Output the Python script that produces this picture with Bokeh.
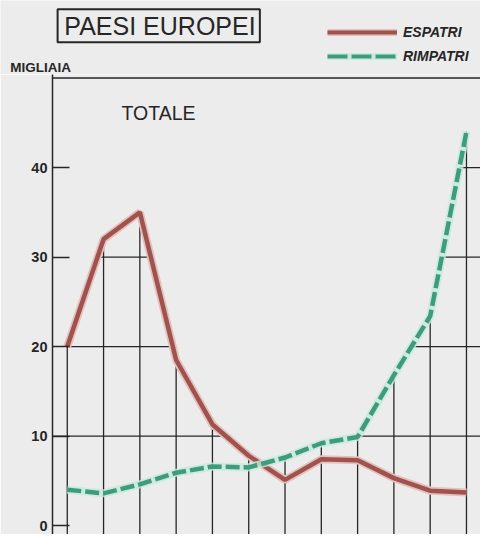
import numpy as np
from bokeh.plotting import figure
from bokeh.layouts import column
from bokeh.models import Range1d, FixedTicker, Label, Legend, LegendItem
from bokeh.core.properties import value
from bokeh.embed import file_html
from bokeh.resources import INLINE

# ---- data (thousands) ----
punti = list(range(12))  # 12 successive periods (axis labels cropped in the source)
espatri = [20.0, 32.0, 35.0, 18.5, 11.3, 7.8, 5.1, 7.4, 7.3, 5.3, 3.9, 3.7]
rimpatri = [4.0, 3.6, 4.6, 5.9, 6.6, 6.5, 7.6, 9.2, 9.9, 16.8, 23.4, 44.0]
y_ticks = [0, 10, 20, 30, 40]
grid_levels = [10, 20, 30, 40]
titolo = "PAESI EUROPEI"
sottotitolo = "TOTALE"
unita = "MIGLIAIA"
nomi_serie = ["ESPATRI", "RIMPATRI"]

BG = "#ececec"
INK = "#262626"
RED = "#a0524e"
RED_HALO = "#e4c2bc"
GREEN = "#3c9c7b"
GREEN_HALO = "#c6eadb"
FONT = "Liberation Sans"

W, H = 480, 534
SX, SY = W / 496, H / 550          # reference-pixel -> figure-pixel
HEAD = 74                          # header height (figure px)


def px2x(px):                      # reference px -> data x
    return (px - 69) / 37.5


def px2y(py):                      # reference px -> data y
    return (550 - py) / 9.4


# ================= header (title box, unit, legend) =================
h = figure(width=W, height=HEAD, output_backend="svg", toolbar_location=None,
           x_range=Range1d(0, 496), y_range=Range1d(HEAD / SY, 0),
           x_axis_location=None, y_axis_location=None,
           min_border_left=0, min_border_right=0, min_border_top=0, min_border_bottom=0)
h.frame_align = False
h.background_fill_color = BG
h.border_fill_color = BG
h.outline_line_color = None
h.grid.visible = False

h.quad(left=[59], right=[268], top=[9], bottom=[43], fill_color=None,
       line_color=INK, line_width=2)
h.text(x=[66], y=[26.5], text=[titolo], text_font=value(FONT), text_font_size="25px",
       text_color=INK, text_baseline="middle")
h.text(x=[10], y=[69], text=[unita], text_font=value(FONT), text_font_style="bold",
       text_font_size="13.5px", text_color=INK, text_baseline="middle")

off = [-1000, -900]
lh_r = h.line(x=off, y=off, line_color=RED_HALO, line_width=7)
lc_r = h.line(x=off, y=off, line_color=RED, line_width=4)
lh_g = h.line(x=off, y=off, line_color=GREEN_HALO, line_width=7, line_alpha=0.8)
lc_g = h.line(x=off, y=off, line_color=GREEN, line_width=4, line_dash="20 4")

legend = Legend(items=[LegendItem(label=nomi_serie[0], renderers=[lh_r, lc_r]),
                       LegendItem(label=nomi_serie[1], renderers=[lh_g, lc_g])],
                location=(327, 8), orientation="vertical",
                glyph_width=70, glyph_height=20, label_height=20, label_standoff=6,
                spacing=4, padding=0, margin=0, border_line_color=None,
                background_fill_alpha=0,
                label_text_font=FONT, label_text_font_style="bold italic",
                label_text_font_size="14px", label_text_color=INK)
h.add_layout(legend)

# ================= main chart =================
p = figure(width=W, height=H - HEAD, output_backend="svg", toolbar_location=None,
           x_range=Range1d(px2x(52 / SX), px2x(496)), y_range=Range1d(-1.0, px2y(HEAD / SY)),
           x_axis_location=None, y_axis_location="left",
           min_border_left=52, min_border_top=0, min_border_right=0, min_border_bottom=0)
p.frame_align = False
p.background_fill_color = BG
p.border_fill_color = BG
p.outline_line_color = None
p.grid.visible = False

ax = p.yaxis[0]
ax.ticker = FixedTicker(ticks=y_ticks)
ax.minor_tick_line_color = None
ax.major_tick_in = 17
ax.major_tick_out = 0
ax.major_tick_line_color = INK
ax.major_tick_line_width = 1.5
ax.axis_line_color = INK
ax.axis_line_width = 1.5
ax.major_label_standoff = 5
ax.major_label_text_font = FONT
ax.major_label_text_font_style = "bold"
ax.major_label_text_font_size = "14.5px"
ax.major_label_text_color = INK

# grid clipped under the upper envelope of the two curves
xa = np.array(punti, dtype=float)
env_pts = np.maximum(np.array(espatri), np.array(rimpatri))
p.segment(x0=xa, y0=np.full_like(xa, -2.0), x1=xa, y1=env_pts, line_color=INK, line_width=1.3)

xs = np.linspace(px2x(52 / SX), px2x(496), 4000)
env = np.maximum(np.interp(xs, xa, espatri), np.interp(xs, xa, rimpatri))
hx0, hx1, hy = [], [], []
for L in grid_levels:
    m = env > L
    d = np.diff(m.astype(int))
    starts = list(np.where(d == 1)[0] + 1)
    ends = list(np.where(d == -1)[0])
    if m[0]:
        starts = [0] + starts
    if m[-1]:
        ends = ends + [len(xs) - 1]
    for s, e in zip(starts, ends):
        hx0.append(xs[s]); hx1.append(xs[e]); hy.append(L)
p.segment(x0=hx0, y0=hy, x1=hx1, y1=hy, line_color=INK, line_width=1.3)

# top border of the chart
p.segment(x0=[px2x(52 / SX)], y0=[50], x1=[px2x(496)], y1=[50], line_color=INK, line_width=1.5)

# series
p.line(punti, espatri, line_color=RED_HALO, line_width=8)
p.line(punti, espatri, line_color=RED, line_width=4.5)
p.line(punti, rimpatri, line_color=GREEN_HALO, line_width=8, line_alpha=0.8)
p.line(punti, rimpatri, line_color=GREEN, line_width=4.5, line_dash="14 4")

p.add_layout(Label(x=px2x(125), y=px2y(116.5), text=sottotitolo, text_font=FONT,
                   text_font_size="19.5px", text_color=INK, text_baseline="middle"))

layout = column(h, p, spacing=0)
open("out.html", "w").write(file_html(layout, INLINE))
